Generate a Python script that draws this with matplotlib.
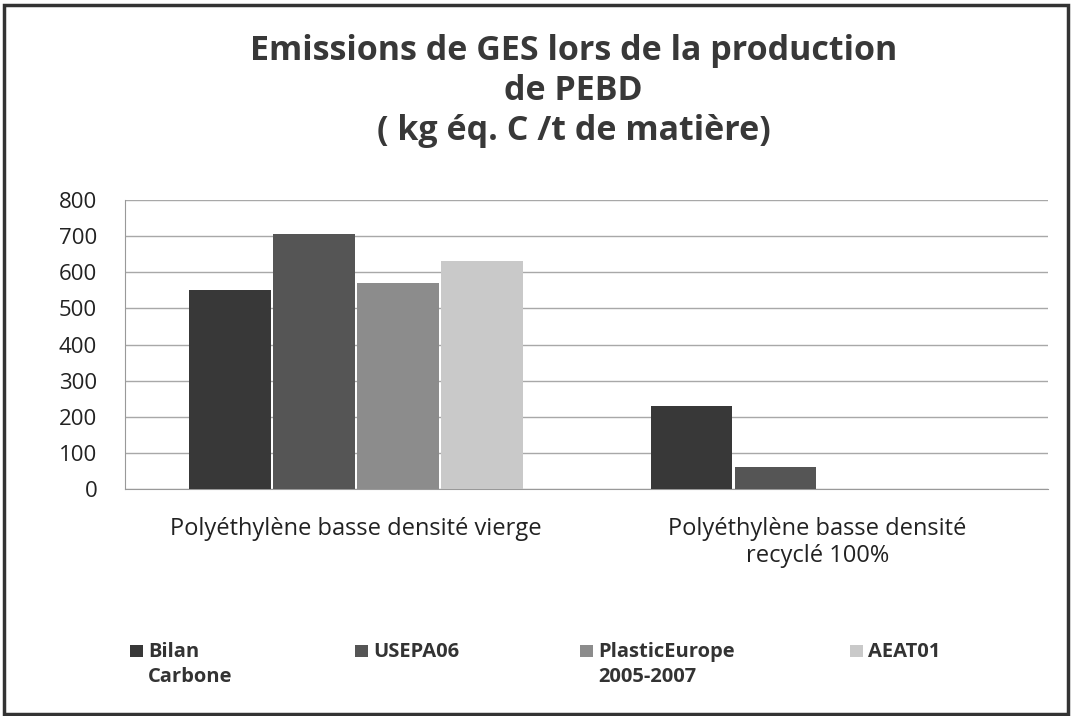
import numpy as np
import matplotlib.pyplot as plt
from matplotlib.patches import Rectangle

# data
categories = ['Polyéthylène basse densité vierge', 'Polyéthylène basse densité\nrecyclé 100%']
series_names = ['Bilan\nCarbone', 'USEPA06', 'PlasticEurope\n2005-2007', 'AEAT01']
bilan_carbone = [550, 230]
usepa06 = [705, 60]
plastic_europe = [570, 0]
aeat01 = [630, 0]
y_ticks = [0, 100, 200, 300, 400, 500, 600, 700, 800]

colors = ['#383838', '#555555', '#8c8c8c', '#c9c9c9']
plt.rcParams['font.family'] = ['Open Sans', 'DejaVu Sans']

fig = plt.figure(figsize=(10.72, 7.16), dpi=100)
ax = fig.add_axes([0.1166, 0.317, 0.8614, 0.4037])

values = [bilan_carbone, usepa06, plastic_europe, aeat01]
x = np.arange(len(categories))
width = 0.182
for i, (vals, name, col) in enumerate(zip(values, series_names, colors)):
    offset = (i - 1.5) * width
    ax.bar(x + offset, vals, width * 0.97, color=col, label=name, zorder=3)

ax.set_xlim(-0.5, 1.5)
ax.set_ylim(0, 800)
ax.set_yticks(y_ticks)
ax.tick_params(axis='y', length=0, labelsize=16, pad=20, colors='#222222')
ax.tick_params(axis='x', length=0, labelsize=17, pad=20, colors='#222222')
ax.set_xticks(x)
ax.set_xticklabels(categories, linespacing=1.2)
ax.grid(axis='y', color='#a8a8a8', linewidth=1, zorder=0)
for side in ['top', 'right']:
    ax.spines[side].set_visible(False)
ax.spines['left'].set_color('#999999')
ax.spines['bottom'].set_color('#999999')

fig.text(0.535, 0.952, 'Emissions de GES lors de la production\nde PEBD\n( kg éq. C /t de matière)',
         ha='center', va='top', fontsize=24.5, fontweight='bold', color='#383838', linespacing=1.22)

# legend drawn by hand so the markers sit on the first line of each label
legend_x = [0.121, 0.331, 0.541, 0.793]
for lx, name, col in zip(legend_x, series_names, colors):
    fig.patches.append(Rectangle((lx, 0.083), 0.012, 0.016, transform=fig.transFigure,
                                 facecolor=col, edgecolor='none'))
    fig.text(lx + 0.017, 0.103, name, ha='left', va='top', fontsize=14.5,
             fontweight='bold', color='#333333', linespacing=1.3)

fig.patches.append(Rectangle((0.004, 0.003), 0.992, 0.99, transform=fig.transFigure,
                             fill=False, edgecolor='#333333', linewidth=2.5))

fig.savefig('out.png', dpi=100, facecolor='white')
